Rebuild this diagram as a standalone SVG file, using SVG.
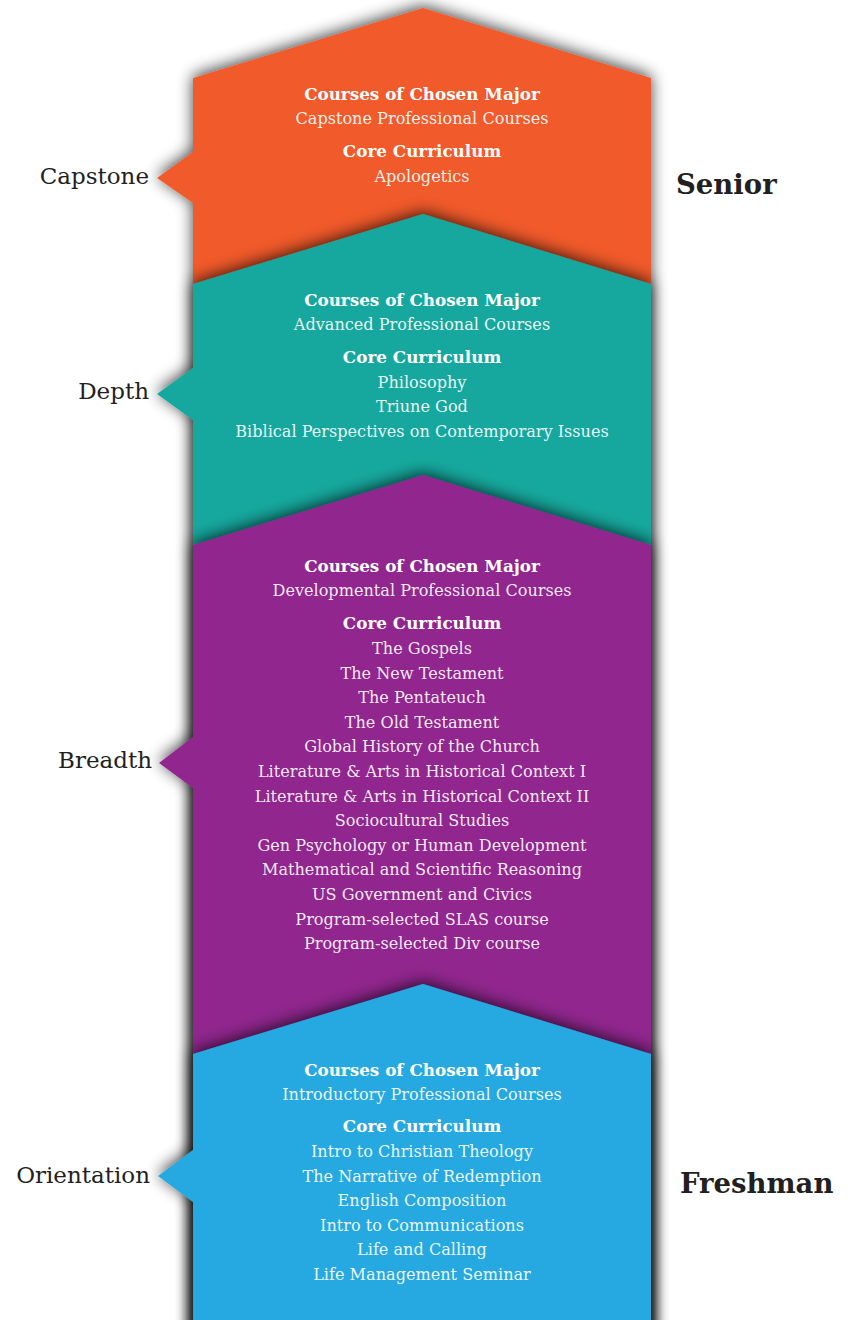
<svg xmlns="http://www.w3.org/2000/svg" width="848" height="1320" viewBox="0 0 848 1320">
<defs>
<filter id="sh" x="-20%" y="-10%" width="140%" height="120%">
<feGaussianBlur in="SourceAlpha" stdDeviation="8"/>
<feOffset dy="-2"/>
<feComponentTransfer><feFuncA type="linear" slope="0.75"/></feComponentTransfer>
<feMerge><feMergeNode/><feMergeNode in="SourceGraphic"/></feMerge>
</filter>
<style>
.h{font-family:"DejaVu Serif","Liberation Serif",serif;font-weight:bold;font-size:16.8px;fill:#ffffff;text-anchor:middle}
.b{font-family:"DejaVu Serif","Liberation Serif",serif;font-size:16.1px;fill:#ffffff;fill-opacity:0.92;text-anchor:middle}
.lab{font-family:"DejaVu Serif","Liberation Serif",serif;font-size:23px;fill:#231f20;text-anchor:end}
.yr{font-family:"DejaVu Serif","Liberation Serif",serif;font-weight:bold;font-size:27.5px;fill:#231f20}
</style>
</defs>
<g id="capstone">
<path filter="url(#sh)" fill="#f15a2b" d="M193,78 L423,8 L651,78 L651,1340 L193,1340 L193,203 L157,178 L193,152 Z"/>
<text class="h" x="422" y="100">Courses of Chosen Major</text>
<text class="b" x="422" y="124">Capstone Professional Courses</text>
<text class="h" x="422" y="157">Core Curriculum</text>
<text class="b" x="422" y="182">Apologetics</text>
</g>
<g id="depth">
<path filter="url(#sh)" fill="#13a89e" d="M193,284 L423,214 L651,284 L651,1340 L193,1340 L193,420 L157,394 L193,368 Z"/>
<text class="h" x="422" y="306">Courses of Chosen Major</text>
<text class="b" x="422" y="330">Advanced Professional Courses</text>
<text class="h" x="422" y="363">Core Curriculum</text>
<text class="b" x="422" y="388">Philosophy</text>
<text class="b" x="422" y="412">Triune God</text>
<text class="b" x="422" y="437">Biblical Perspectives on Contemporary Issues</text>
</g>
<g id="breadth">
<path filter="url(#sh)" fill="#90278e" d="M193,545 L423,475 L651,545 L651,1340 L193,1340 L193,788 L159,763 L193,737 Z"/>
<text class="h" x="422" y="572">Courses of Chosen Major</text>
<text class="b" x="422" y="596">Developmental Professional Courses</text>
<text class="h" x="422" y="629">Core Curriculum</text>
<text class="b" x="422" y="654">The Gospels</text>
<text class="b" x="422" y="679">The New Testament</text>
<text class="b" x="422" y="703">The Pentateuch</text>
<text class="b" x="422" y="728">The Old Testament</text>
<text class="b" x="422" y="752">Global History of the Church</text>
<text class="b" x="422" y="777">Literature &amp; Arts in Historical Context I</text>
<text class="b" x="422" y="802">Literature &amp; Arts in Historical Context II</text>
<text class="b" x="422" y="826">Sociocultural Studies</text>
<text class="b" x="422" y="851">Gen Psychology or Human Development</text>
<text class="b" x="422" y="875">Mathematical and Scientific Reasoning</text>
<text class="b" x="422" y="900">US Government and Civics</text>
<text class="b" x="422" y="925">Program-selected SLAS course</text>
<text class="b" x="422" y="949">Program-selected Div course</text>
</g>
<g id="orientation">
<path filter="url(#sh)" fill="#25a9e0" d="M193,1054 L423,984 L651,1054 L651,1340 L193,1340 L193,1202 L158,1176 L193,1150 Z"/>
<text class="h" x="422" y="1076">Courses of Chosen Major</text>
<text class="b" x="422" y="1100">Introductory Professional Courses</text>
<text class="h" x="422" y="1132">Core Curriculum</text>
<text class="b" x="422" y="1157">Intro to Christian Theology</text>
<text class="b" x="422" y="1182">The Narrative of Redemption</text>
<text class="b" x="422" y="1206">English Composition</text>
<text class="b" x="422" y="1231">Intro to Communications</text>
<text class="b" x="422" y="1255">Life and Calling</text>
<text class="b" x="422" y="1280">Life Management Seminar</text>
</g>
<g id="labels">
<text class="lab" x="149" y="184">Capstone</text>
<text class="lab" x="149" y="399">Depth</text>
<text class="lab" x="152" y="768">Breadth</text>
<text class="lab" x="150" y="1183">Orientation</text>
<text class="yr" x="676" y="194">Senior</text>
<text class="yr" x="680" y="1193">Freshman</text>
</g>
<g id="connectors"/>
</svg>
